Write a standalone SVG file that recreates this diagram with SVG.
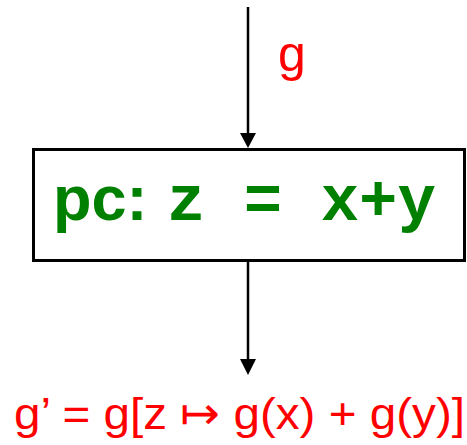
<svg xmlns="http://www.w3.org/2000/svg" width="467" height="445" viewBox="0 0 467 445">
<style>
.edge{stroke:#000;stroke-width:2.5;fill:none}
.head{fill:#000}
.lbl{fill:#ff0000;font-family:"Liberation Sans",Arial,"DejaVu Sans",sans-serif}
.box{fill:#fff;stroke:#000;stroke-width:3}
.code{fill:#008000;font-weight:bold}
</style>
<rect width="467" height="445" fill="#fff"/>
<g id="connectors">
<line class="edge" x1="248" y1="7" x2="248" y2="136"/>
<polygon class="head" points="240,133 256,133 248,148"/>
<line class="edge" x1="248" y1="261" x2="248" y2="362"/>
<polygon class="head" points="240,359 256,359 248,375"/>
<text class="lbl" x="278" y="71" font-size="50">g</text>
</g>
<g id="node-pc">
<rect class="box" x="33.5" y="149.5" width="431" height="111"/>
<text class="code" y="220"><tspan x="53" font-family="'Liberation Sans',Arial,sans-serif" font-size="63">pc:</tspan><tspan x="167" font-family="'Liberation Mono','Courier New',monospace" font-size="64">z = x+y</tspan></text>
</g>
<g id="result">
<text class="lbl" x="14" y="429" font-size="45" textLength="451" lengthAdjust="spacingAndGlyphs">g’ = g[z ↦ g(x) + g(y)]</text>
</g>
</svg>
